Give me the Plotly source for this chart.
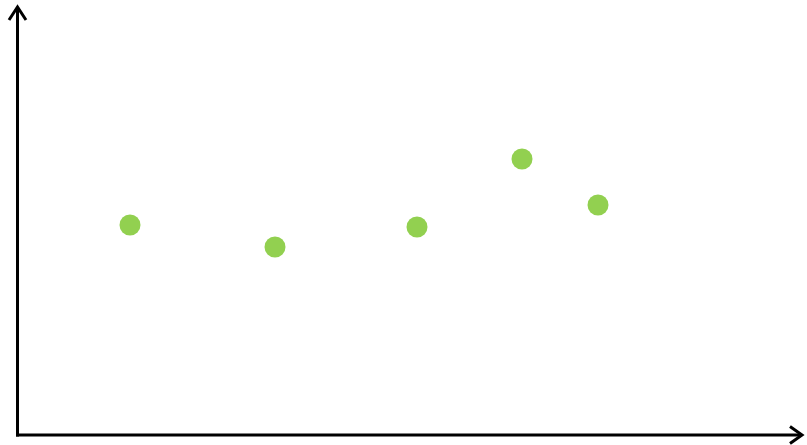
"""Scatter of five points on bare arrowed axes."""

import plotly.graph_objects as go

# data values (arbitrary units)
x_vals = [1.30, 2.75, 4.17, 5.22, 5.98]
y_vals = [2.20, 1.98, 2.18, 2.86, 2.40]

X_MAX = 8.07
Y_MAX = 4.45
AXIS_X = 0.175  # where the vertical axis sits
AXIS_Y = 0.10   # where the horizontal axis sits

fig = go.Figure()
fig.add_trace(go.Scatter(
    x=x_vals,
    y=y_vals,
    mode="markers",
    marker=dict(size=21, color="#92D050", line=dict(width=0)),
    hoverinfo="skip",
))

line_style = dict(color="black", width=3)
shapes = [
    # y axis + arrowhead
    dict(type="line", x0=AXIS_X, y0=AXIS_Y - 0.015, x1=AXIS_X, y1=4.37, line=line_style),
    dict(type="path", path=f"M {AXIS_X - 0.085},4.25 L {AXIS_X},4.38 L {AXIS_X + 0.085},4.25",
         line=line_style),
    # x axis + arrowhead
    dict(type="line", x0=AXIS_X - 0.015, y0=AXIS_Y, x1=8.01, y1=AXIS_Y, line=line_style),
    dict(type="path", path=f"M 7.90,{AXIS_Y + 0.085} L 8.02,{AXIS_Y} L 7.90,{AXIS_Y - 0.085}",
         line=line_style),
]
for s in shapes:
    s.update(xref="x", yref="y", layer="above")

fig.update_layout(
    width=807,
    height=445,
    margin=dict(l=0, r=0, t=0, b=0),
    paper_bgcolor="white",
    plot_bgcolor="white",
    showlegend=False,
    shapes=shapes,
    xaxis=dict(range=[0, X_MAX], visible=False, fixedrange=True),
    yaxis=dict(range=[0, Y_MAX], visible=False, fixedrange=True),
)

# drop the browser's default body margin so the figure fills the window
fig.write_html(
    "out.html",
    config={"displayModeBar": False},
    post_script="document.body.style.margin='0';document.body.style.overflow='hidden';",
)
